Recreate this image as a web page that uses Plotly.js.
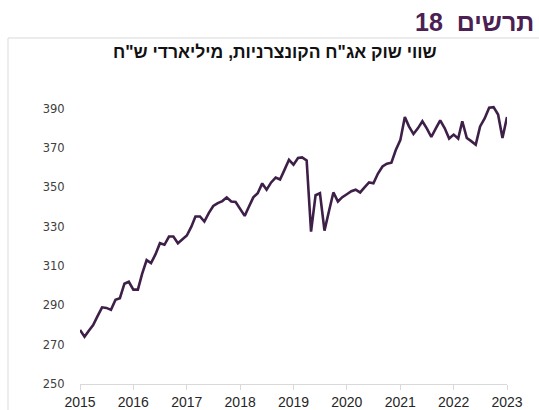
<!DOCTYPE html>
<html>
<head>
<meta charset="utf-8">
<script src="https://cdn.plot.ly/plotly-3.0.1.min.js"></script>
<style>
  html, body { margin: 0; padding: 0; background: #ffffff; }
  #chart { width: 539px; height: 410px; }
</style>
</head>
<body>
<div id="chart"></div>
<script>
// Market value of corporate bonds, NIS billions (monthly)
const v2015 = [277.5, 274, 277, 280, 284.5, 289, 288.7, 287.7, 292.8, 293.6, 301, 302];
const v2016 = [298, 298, 306, 313, 311.5, 316, 321.6, 320.8, 325, 325, 321.6, 323.5];
const v2017 = [325.5, 330, 335.2, 335.2, 332.6, 337, 340.5, 342, 343, 344.9, 342.8, 342.5];
const v2018 = [339, 335.5, 340, 344.9, 347, 352, 348.8, 352.5, 355, 354, 359, 364];
const v2019 = [361.5, 364.9, 365.2, 363.7, 327.5, 346, 347, 328, 338, 347.4, 342.8, 345];
const v2020 = [346.5, 348, 348.8, 347.4, 350, 352.5, 352.1, 357, 360.6, 362, 362.5, 369];
const v2021 = [374, 385.7, 381, 377.1, 380, 383.6, 380, 375.6, 380, 384, 380, 374.8];
const v2022 = [376.8, 374.8, 383.6, 375.1, 373.5, 371.7, 381, 385, 390.5, 390.8, 387, 375.1];
const v2023 = [385.7];
const years = [2015, 2016, 2017, 2018, 2019, 2020, 2021, 2022, 2023];
const yearValues = [v2015, v2016, v2017, v2018, v2019, v2020, v2021, v2022, v2023];
const yTicks = [250, 270, 290, 310, 330, 350, 370, 390];
const xTickYears = ['2015', '2016', '2017', '2018', '2019', '2020', '2021', '2022', '2023'];

const chartLabel = 'תרשים\u00A0 18';
const chartTitle = 'שווי שוק אג"ח הקונצרניות, מיליארדי ש"ח';

const dates = [];
const values = [];
years.forEach((y, i) => {
  yearValues[i].forEach((v, m) => {
    dates.push(y + '-' + String(m + 1).padStart(2, '0') + '-01');
    values.push(v);
  });
});

const trace = {
  x: dates,
  y: values,
  type: 'scatter',
  mode: 'lines',
  line: { color: '#3d1f48', width: 2.6 },
  hoverinfo: 'x+y'
};

const layout = {
  width: 539,
  height: 410,
  margin: { l: 80, r: 32, t: 89, b: 26 },
  paper_bgcolor: '#ffffff',
  plot_bgcolor: '#ffffff',
  showlegend: false,
  font: { family: 'Liberation Sans, Arial, sans-serif', color: '#222' },
  xaxis: {
    type: 'date',
    range: ['2015-01-01', '2023-01-01'],
    tickvals: xTickYears.map(y => y + '-01-01'),
    ticktext: xTickYears,
    showgrid: false,
    zeroline: false,
    showline: true,
    linecolor: '#d9d9d9',
    linewidth: 1,
    ticks: 'outside',
    ticklen: 5,
    tickcolor: '#d9d9d9',
    tickfont: { family: 'Liberation Sans, Arial, sans-serif', size: 14, color: '#262626' }
  },
  yaxis: {
    range: [250, 400],
    tickvals: yTicks,
    showgrid: false,
    zeroline: false,
    showline: false,
    ticks: 'outside',
    ticklen: 12,
    tickcolor: 'rgba(0,0,0,0)',
    tickfont: { family: 'DejaVu Sans, Verdana, sans-serif', size: 11.5, color: '#404040' }
  },
  shapes: [
    {
      type: 'rect', xref: 'paper', yref: 'paper',
      x0: (8 - 80) / 427, x1: (560 - 80) / 427,
      y0: (384 - 430) / 295, y1: (384 - 38) / 295,
      line: { color: '#d9d9d9', width: 1 }, fillcolor: 'rgba(0,0,0,0)', layer: 'below'
    }
  ],
  annotations: [
    {
      text: '<b>' + chartLabel + '</b>',
      xref: 'paper', yref: 'paper',
      x: (536 - 80) / 427, y: (384 - 22) / 295,
      xanchor: 'right', yanchor: 'middle', showarrow: false,
      font: { family: 'Liberation Sans, Arial, sans-serif', size: 25, color: '#4a2152' }
    },
    {
      text: '<b>' + chartTitle + '</b>',
      xref: 'paper', yref: 'paper',
      x: (275 - 80) / 427, y: (384 - 52) / 295,
      xanchor: 'center', yanchor: 'middle', showarrow: false,
      font: { family: 'Liberation Sans, Arial, sans-serif', size: 17.5, color: '#111' }
    }
  ]
};

Plotly.newPlot('chart', [trace], layout, { displayModeBar: false, staticPlot: true });
</script>
</body>
</html>
